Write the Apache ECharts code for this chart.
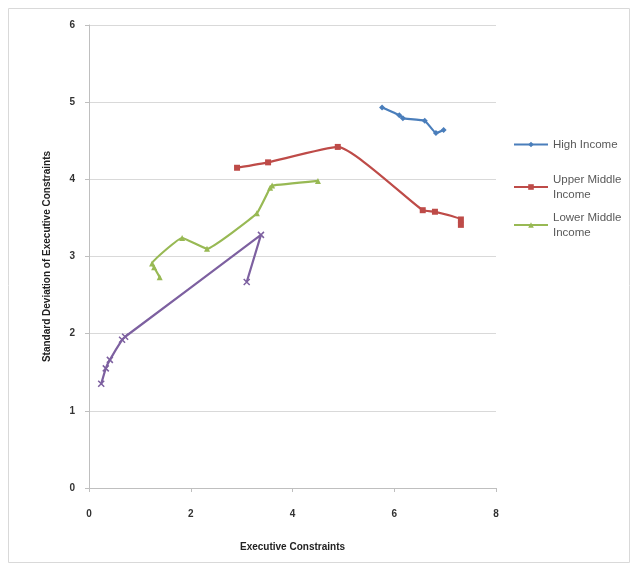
<!DOCTYPE html>
<html><head><meta charset="utf-8">
<script src="https://cdn.jsdelivr.net/npm/echarts@6/dist/echarts.min.js"></script>
<style>html,body{margin:0;padding:0;background:#fff}#c{width:638px;height:571px}</style>
</head><body><div id="c"></div>
<script>
const xTicks = [0, 2, 4, 6, 8];
const yTicks = [0, 1, 2, 3, 4, 5, 6];
const seriesNames = ['High Income', 'Upper Middle\nIncome', 'Lower Middle\nIncome', 'Low Income'];
const highIncome = [[5.76,4.93],[6.1,4.83],[6.17,4.79],[6.6,4.76],[6.82,4.6],[6.97,4.64]];
const upperMiddle = [[2.91,4.15],[3.52,4.22],[4.89,4.42],[6.56,3.6],[6.8,3.58],[7.31,3.48],[7.31,3.41]];
const lowerMiddle = [[1.39,2.73],[1.28,2.86],[1.24,2.91],[1.83,3.24],[2.32,3.1],[3.3,3.56],[3.56,3.89],[3.6,3.92],[4.5,3.98]];
const lowIncome = [[0.24,1.35],[0.33,1.55],[0.41,1.66],[0.65,1.92],[0.71,1.96],[3.38,3.28],[3.1,2.67]];

const colors = ['#4A7EBB', '#BE4B48', '#98B954', '#7D60A0'];
const symbols = ['diamond', 'rect', 'triangle', 'path://M-1,-1L1,1M1,-1L-1,1'];
const data = [highIncome, upperMiddle, lowerMiddle, lowIncome];
const smooths = [0.1, 0.15, 0.1, 0.1];
const legendTops = [137, 172, 210];

const legendText = {color: '#595959', fontSize: 11.5, fontFamily: 'Liberation Sans', lineHeight: 15};
const chart = echarts.init(document.getElementById('c'));
chart.setOption({
  animation: false,
  graphic: [{type:'rect', shape:{x:8.5,y:8.5,width:621,height:554}, style:{fill:'none', stroke:'#d9d9d9', lineWidth:1}, z:-1}],
  grid: {left: 89, right: 142, top: 25, bottom: 83},
  legend: [0,1,2].map(i => ({
    orient: 'vertical', left: 513, top: legendTops[i], padding: 0,
    itemWidth: 34, itemHeight: 7, itemGap: 4,
    data: [seriesNames[i]], textStyle: legendText
  })),
  xAxis: {
    type: 'value', min: 0, max: 8, interval: 2,
    name: 'Executive Constraints', nameLocation: 'middle', nameGap: 54,
    nameTextStyle: {fontSize: 10, fontWeight: 'bold', color: '#222', fontFamily: 'Liberation Sans'},
    axisLine: {show: true, lineStyle: {color: '#bfbfbf'}},
    axisTick: {show: true, length: 4, lineStyle: {color: '#bfbfbf'}},
    axisLabel: {fontSize: 10, fontWeight: 'bold', color: '#333', margin: 21, fontFamily: 'Liberation Sans',
      formatter: v => xTicks.includes(v) ? String(v) : ''},
    splitLine: {show: false}
  },
  yAxis: {
    type: 'value', min: 0, max: 6, interval: 1,
    name: 'Standard Deviation of Executive Constraints', nameLocation: 'middle', nameGap: 37,
    nameTextStyle: {fontSize: 10, fontWeight: 'bold', color: '#222', fontFamily: 'Liberation Sans'},
    axisLine: {show: true, lineStyle: {color: '#bfbfbf'}},
    axisTick: {show: true, length: 4, lineStyle: {color: '#bfbfbf'}},
    axisLabel: {fontSize: 10, fontWeight: 'bold', color: '#333', margin: 14, fontFamily: 'Liberation Sans',
      formatter: v => yTicks.includes(v) ? String(v) : ''},
    splitLine: {show: true, lineStyle: {color: '#d9d9d9'}}
  },
  series: data.map((d, i) => ({
    name: seriesNames[i], type: 'line', data: d, smooth: smooths[i],
    symbol: symbols[i], symbolSize: 6,
    showAllSymbol: true,
    lineStyle: {color: colors[i], width: 2.2},
    itemStyle: {color: colors[i], borderColor: colors[i], borderWidth: i === 3 ? 1.5 : 0}
  }))
});
</script></body></html>
